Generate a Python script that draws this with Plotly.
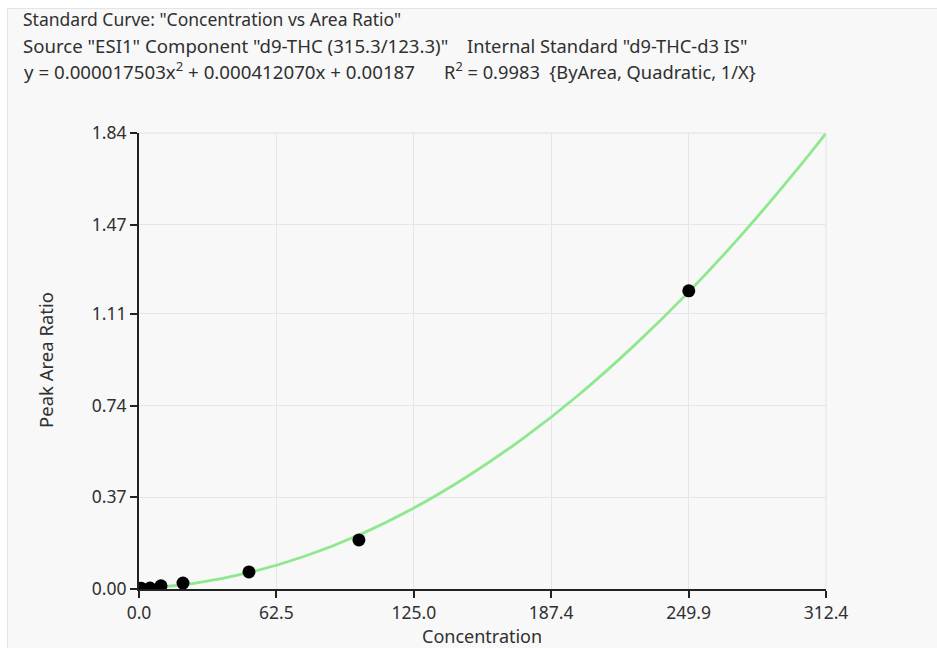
import plotly.graph_objects as go

# ---- data ----
conc = [0.5, 1, 5, 10, 20, 50, 100, 250]
area_ratio = [0.002, 0.003, 0.004, 0.013, 0.024, 0.069, 0.198, 1.203]

curve_x = [0, 25, 50, 75, 100, 125, 150, 175, 200, 225, 250, 275, 300, 312.4]
curve_y = [0.002, 0.023, 0.066, 0.131, 0.218, 0.327, 0.458, 0.610, 0.784, 0.981, 1.199, 1.439, 1.701, 1.839]

x_ticks = [0.0, 62.5, 125.0, 187.4, 249.9, 312.4]
x_tick_text = ["0.0", "62.5", "125.0", "187.4", "249.9", "312.4"]
y_ticks = [0.00, 0.37, 0.74, 1.11, 1.47, 1.84]
y_tick_text = ["0.00", "0.37", "0.74", "1.11", "1.47", "1.84"]

# header text pieces: (text, left pixel, line index, font size)
title_parts = [
    ('Standard Curve: "Concentration vs Area Ratio"', 21, 0, 17.5),
    ('Source "ESI1" Component "d9-THC (315.3/123.3)"', 21, 1, 18.6),
    ('Internal Standard "d9-THC-d3 IS"', 465, 1, 18.3),
    ('y = 0.000017503x<sup>2</sup> + 0.000412070x + 0.00187', 22, 2, 18.7),
    ('R<sup>2</sup> = 0.9983  {ByArea, Quadratic, 1/X}', 442, 2, 18.3),
]

# ---- layout geometry (pixels) ----
W, H = 937, 648
L, R, T, B = 139, 826, 133, 589
PW, PH = R - L, B - T

def px(x):
    return (x - L) / PW

def py(y):
    return (B - y) / PH

FONT = "Noto Sans"
TXT = "#303030"

fig = go.Figure()
fig.add_trace(go.Scatter(
    x=curve_x, y=curve_y, mode="lines",
    line=dict(color="#8fe88f", width=2.8, shape="spline"),
    hoverinfo="skip", showlegend=False,
))
fig.add_trace(go.Scatter(
    x=conc, y=area_ratio, mode="markers",
    marker=dict(color="black", size=13),
    showlegend=False,
))

annotations = []
for text, left, row, fsize in title_parts:
    annotations.append(dict(
        text=text, xref="paper", yref="paper",
        x=px(left), y=py(19 + 26 * row), xanchor="left", yanchor="middle",
        showarrow=False,
        font=dict(family=FONT, size=fsize, color=TXT),
    ))
annotations.append(dict(
    text="Concentration", xref="paper", yref="paper",
    x=px(482), y=py(636), xanchor="center", yanchor="middle",
    showarrow=False, font=dict(family=FONT, size=18, color=TXT),
))
annotations.append(dict(
    text="Peak Area Ratio", xref="paper", yref="paper",
    x=px(45), y=py(360), xanchor="center", yanchor="middle", textangle=-90,
    showarrow=False, font=dict(family=FONT, size=18.5, color=TXT),
))

shapes = [
    dict(type="rect", xref="paper", yref="paper",
         x0=px(7.5), x1=px(W + 5), y0=py(8.5), y1=py(H + 5),
         fillcolor="#f8f8f8", line=dict(color="#e4e4e4", width=1), layer="below"),
    dict(type="line", xref="paper", yref="paper", x0=0, x1=1, y0=1, y1=1,
         line=dict(color="#e2e2e2", width=1)),
    dict(type="line", xref="paper", yref="paper", x0=1, x1=1, y0=0, y1=1,
         line=dict(color="#e2e2e2", width=1)),
]

fig.update_layout(
    width=W, height=H,
    margin=dict(l=L, r=W - R, t=T, b=H - B),
    paper_bgcolor="white", plot_bgcolor="white",
    annotations=annotations, shapes=shapes,
    font=dict(family=FONT, size=17, color=TXT),
)
fig.update_xaxes(
    range=[0, 312.4], tickvals=x_ticks, ticktext=x_tick_text,
    showgrid=True, gridcolor="#e6e6e6", gridwidth=1,
    showline=True, linecolor="#222222", linewidth=2,
    ticks="outside", ticklen=7, tickwidth=2, tickcolor="#222222",
    zeroline=False, tickfont=dict(family=FONT, size=17.5, color=TXT),
)
fig.update_yaxes(
    range=[0, 1.84], tickvals=y_ticks, ticktext=y_tick_text,
    showgrid=True, gridcolor="#e6e6e6", gridwidth=1,
    showline=True, linecolor="#222222", linewidth=2,
    ticks="outside", ticklen=7, tickwidth=2, tickcolor="#222222",
    zeroline=False, tickfont=dict(family=FONT, size=17.5, color=TXT),
)

fig.write_html("out.html")
